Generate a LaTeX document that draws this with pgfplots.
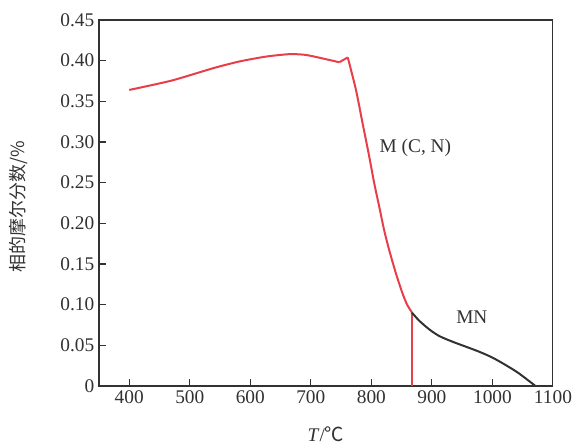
\documentclass[border=0pt]{standalone}
\usepackage{pgfplots}
\pgfplotsset{compat=1.18}
\usepackage{fontspec}
\setmainfont{Liberation Serif}
\newfontfamily\cjk{Noto Sans CJK SC}
\definecolor{cred}{RGB}{232,62,72}
\definecolor{cgray}{RGB}{50,50,50}
\begin{document}
\begin{tikzpicture}
\begin{axis}[
  width=340.5pt, height=274.5pt, scale only axis,
  xmin=350, xmax=1100, ymin=0, ymax=0.45,
  xtick={400,500,...,1100},
  ytick={0,0.05,0.10,0.15,0.20,0.25,0.30,0.35,0.40,0.45},
  yticklabels={0,0.05,0.10,0.15,0.20,0.25,0.30,0.35,0.40,0.45},
  xticklabels={400,500,600,700,800,900,1000,1100},
  tick align=inside, xtick pos=bottom, ytick pos=left,
  major tick length=5pt,
  axis line style={cgray, line width=0.8pt},
  every tick/.style={cgray, line width=0.8pt},
  ticklabel style={font=\fontsize{14.5}{16}\selectfont, text=cgray},
  xlabel={\textit{T}/{\cjk ℃}},
  ylabel={{\cjk\fontsize{13.5}{16}\selectfont 相的摩尔分数/\%}},
  label style={font=\fontsize{14.5}{16}\selectfont, text=cgray},
  xlabel style={at={(rel axis cs:0.5,-0.133)}, anchor=center},
  ylabel style={at={(rel axis cs:-0.178,0.49)}, anchor=center},
  clip=false,
]
\addplot[cred, line width=1.5pt, smooth, tension=0.4] coordinates {
(400,0.364) (470,0.3755) (540,0.391) (582,0.399) (626,0.405) (665,0.408) (692,0.407) (725,0.4018) (747,0.398)
};
\addplot[cred, line width=1.5pt, sharp plot] coordinates {(747,0.398) (761,0.404)};
\addplot[cred, line width=1.5pt, smooth, tension=0.4] coordinates {
(761,0.404) (774.6,0.364) (785.5,0.323) (796.5,0.282) (804.8,0.249) (813,0.2205) (821,0.192) (829.5,0.167) (840.5,0.1386) (851.4,0.114) (859,0.100) (867,0.0905)
};
\addplot[cred, line width=1.1pt] coordinates {(867,0.0905) (867,0)};
\addplot[cgray, line width=1.5pt, smooth, tension=0.5] coordinates {
(867,0.0902) (879,0.0803) (895.5,0.0697) (911.9,0.0615) (933.8,0.0545) (955.8,0.0484) (977.8,0.0422) (999.7,0.0350) (1021.7,0.0258) (1043.6,0.0156) (1071,0)
};
\node[anchor=west, text=cgray, font=\fontsize{14.5}{16}\selectfont] at (axis cs:806,0.293) {M (C, N)};
\node[anchor=center, text=cgray, font=\fontsize{14.5}{16}\selectfont] at (axis cs:966,0.0845) {MN};
\coordinate (bl) at (rel axis cs:-0.218,-0.161);
\coordinate (tr) at (rel axis cs:1.064,1.0546);
\end{axis}
\pgfresetboundingbox
\path (bl) rectangle (tr);
\end{tikzpicture}
\end{document}
